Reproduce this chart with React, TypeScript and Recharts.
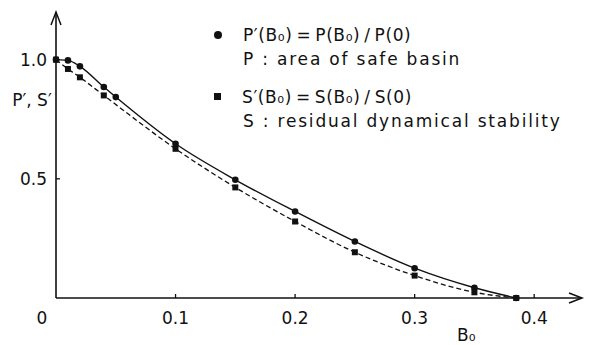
import { LineChart, Line, XAxis, YAxis, Legend, ReferenceDot, Label } from 'recharts'

const bValues = [0, 0.01, 0.02, 0.04, 0.05, 0.1, 0.15, 0.2, 0.25, 0.3, 0.35, 0.385]
const pValues = [1.0, 0.997, 0.972, 0.885, 0.843, 0.647, 0.496, 0.363, 0.237, 0.125, 0.043, 0]
const sValues = [1.0, 0.961, 0.926, 0.85, null, 0.626, 0.464, 0.321, 0.192, 0.094, 0.024, 0]

const xTicks = [0, 0.1, 0.2, 0.3, 0.4]
const yTicks = [0.5, 1.0]

const legendRows = [
  { marker: 'circle', formula: 'P′(B₀)\u2009=\u2009P(B₀)\u2009/\u2009P(0)', desc: 'P  : area of safe basin' },
  { marker: 'square', formula: 'S′(B₀)\u2009=\u2009S(B₀)\u2009/\u2009S(0)', desc: 'S : residual dynamical stability' },
]

const data = bValues.map((b, i) => ({ b, p: pValues[i], s: sValues[i] }))

const ink = '#111'
const font = '"DejaVu Sans", sans-serif'

function XTick({ x, y, payload }: any) {
  const v = payload.value
  return (
    <g>
      {v !== 0 && <line x1={x} y1={y} x2={x} y2={y - 4} stroke={ink} strokeWidth={1.3} />}
      <text x={v === 0 ? x - 14 : x} y={y + 26} textAnchor="middle" fontSize={17} fill={ink} fontFamily={font}>
        {v === 0 ? '0' : v.toFixed(1)}
      </text>
    </g>
  )
}

function YTick({ x, y, payload }: any) {
  return (
    <g>
      <line x1={x} y1={y} x2={x + 4} y2={y} stroke={ink} strokeWidth={1.3} />
      <text x={x - 9} y={y + 6} textAnchor="end" fontSize={17} fill={ink} fontFamily={font}>
        {payload.value.toFixed(1)}
      </text>
    </g>
  )
}

function SquareDot({ cx, cy }: any) {
  if (cx == null || cy == null) return null
  return <rect x={cx - 3} y={cy - 3} width={6} height={6} fill={ink} />
}

function LegendBox() {
  return (
    <div style={{ fontFamily: font, color: ink, fontSize: 17, letterSpacing: 1.8 }}>
      {legendRows.map((r) => (
        <div key={r.marker} style={{ marginBottom: 14 }}>
          <div style={{ display: 'flex', alignItems: 'center', height: 23 }}>
            <span
              style={{
                display: 'inline-block',
                width: r.marker === 'circle' ? 8 : 7,
                height: r.marker === 'circle' ? 8 : 7,
                borderRadius: r.marker === 'circle' ? '50%' : 0,
                background: ink,
                marginRight: 21,
              }}
            />
            <span style={{ letterSpacing: 0.6 }}>{r.formula}</span>
          </div>
          <div style={{ paddingLeft: 29, height: 25, lineHeight: '27px' }}>{r.desc}</div>
        </div>
      ))}
    </div>
  )
}

export default function App() {
  return (
    <div style={{ position: 'absolute', left: 0, top: 0, background: '#fff' }}>
      <LineChart width={598} height={345} data={data} margin={{ top: 12, right: 16, left: 0, bottom: 0 }}>
        <XAxis
          dataKey="b"
          type="number"
          domain={[0, 0.44]}
          ticks={xTicks}
          tick={<XTick />}
          tickLine={false}
          tickSize={0}
          tickMargin={0}
          height={47}
          axisLine={{ stroke: ink, strokeWidth: 1.6 }}
        >
          <Label
            content={({ viewBox }: any) => (
              <text x={viewBox.x + 401} y={viewBox.y + 43} fontSize={17} fill={ink} fontFamily={font}>
                B₀
              </text>
            )}
          />
        </XAxis>
        <YAxis
          type="number"
          domain={[0, 1.2]}
          ticks={yTicks}
          tick={<YTick />}
          tickLine={false}
          tickSize={0}
          tickMargin={0}
          width={56}
          axisLine={{ stroke: ink, strokeWidth: 1.6 }}
        >
          <Label
            content={({ viewBox }: any) => (
              <text x={viewBox.x + 32} y={viewBox.y + 94} textAnchor="middle" fontSize={17} fill={ink} fontFamily={font}>
                P′, S′
              </text>
            )}
          />
        </YAxis>
        <Legend
          content={<LegendBox />}
          layout="horizontal"
          verticalAlign="middle"
          wrapperStyle={{ left: 214, top: 23, width: 384 }}
        />
        <Line
          type="monotone"
          dataKey="p"
          stroke={ink}
          strokeWidth={1.4}
          dot={{ r: 3.3, fill: ink, stroke: ink, strokeWidth: 0 }}
          isAnimationActive={false}
        />
        <Line
          type="monotone"
          dataKey="s"
          stroke={ink}
          strokeWidth={1.3}
          strokeDasharray="5 3"
          connectNulls
          dot={<SquareDot />}
          isAnimationActive={false}
        />
        <ReferenceDot
          x={0}
          y={1.2}
          r={0}
          ifOverflow="visible"
          shape={({ cx, cy }: any) => (
            <path d={`M${cx - 5},${cy + 13} L${cx},${cy} L${cx + 5},${cy + 13}`} fill="none" stroke={ink} strokeWidth={1.5} />
          )}
        />
        <ReferenceDot
          x={0.44}
          y={0}
          r={0}
          ifOverflow="visible"
          shape={({ cx, cy }: any) => (
            <path d={`M${cx - 13},${cy - 5} L${cx},${cy} L${cx - 13},${cy + 5}`} fill="none" stroke={ink} strokeWidth={1.5} />
          )}
        />
      </LineChart>
    </div>
  )
}
